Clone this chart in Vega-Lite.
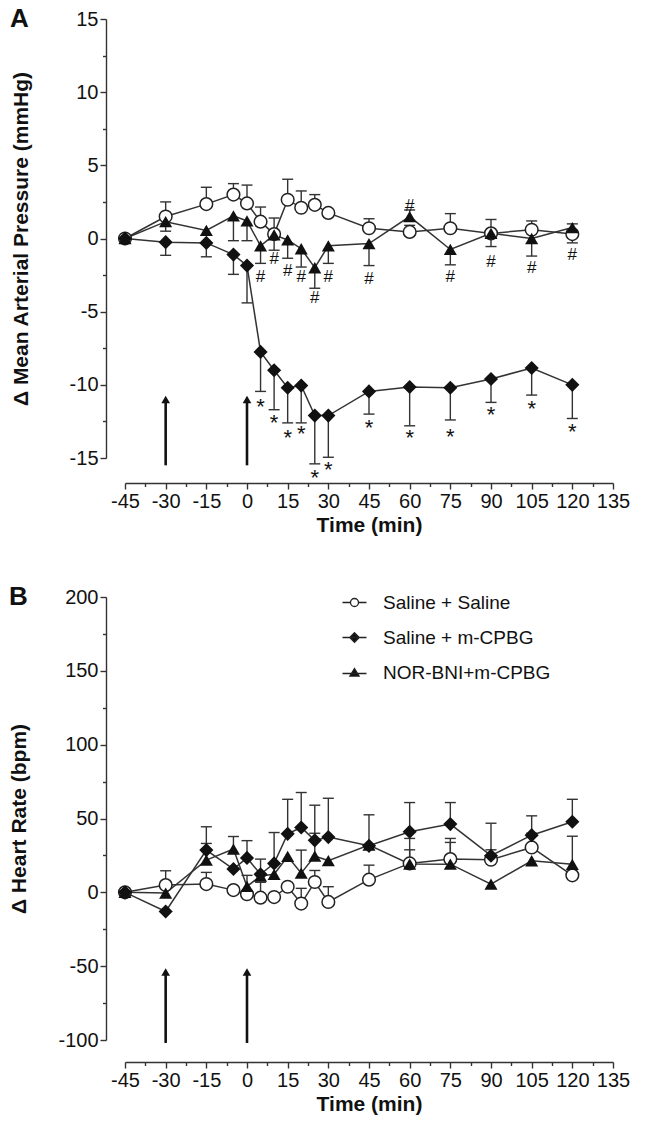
{
"$schema": "https://vega.github.io/schema/vega-lite/v6.json",
"background": "white",
"padding": {"left": 8, "top": 6, "right": 5, "bottom": 5},
"spacing": 49,
"config": {
  "view": {"stroke": null},
  "font": "Liberation Sans",
  "axis": {"labelFont": "Liberation Sans", "labelFontSize": 20, "labelColor": "#111", "titleFont": "Liberation Sans", "titleFontSize": 21, "titleFontWeight": "bold", "titleColor": "#111", "domainColor": "#333", "tickColor": "#333", "domainWidth": 1.4, "tickWidth": 1.4, "grid": false, "labelFlush": false, "labelOverlap": false},
  "title": {"font": "Liberation Sans"}
},
"datasets": {
  "arrowsA": [{"time": -30, "y0": -15.5, "y1": -11.0}, {"time": 0, "y0": -15.5, "y1": -11.0}],
  "arrowsB": [{"time": -30, "y0": -102, "y1": -54}, {"time": 0, "y0": -102, "y1": -54}],
  "mapData": [
    {"group": "Saline + Saline", "time": -45, "value": 0, "bar": null},
    {"group": "Saline + Saline", "time": -30, "value": 1.5, "bar": 2.5},
    {"group": "Saline + Saline", "time": -15, "value": 2.35, "bar": 3.5},
    {"group": "Saline + Saline", "time": -5, "value": 3.0, "bar": 3.75},
    {"group": "Saline + Saline", "time": 0, "value": 2.4, "bar": 3.65},
    {"group": "Saline + Saline", "time": 5, "value": 1.15, "bar": 2.15},
    {"group": "Saline + Saline", "time": 10, "value": 0.3, "bar": 1.4},
    {"group": "Saline + Saline", "time": 15, "value": 2.65, "bar": 4.05},
    {"group": "Saline + Saline", "time": 20, "value": 2.1, "bar": 3.25},
    {"group": "Saline + Saline", "time": 25, "value": 2.3, "bar": 3.0},
    {"group": "Saline + Saline", "time": 30, "value": 1.75, "bar": null},
    {"group": "Saline + Saline", "time": 45, "value": 0.7, "bar": 1.35},
    {"group": "Saline + Saline", "time": 60, "value": 0.45, "bar": 0.9},
    {"group": "Saline + Saline", "time": 75, "value": 0.7, "bar": 1.7},
    {"group": "Saline + Saline", "time": 90, "value": 0.35, "bar": 1.3},
    {"group": "Saline + Saline", "time": 105, "value": 0.6, "bar": 1.2},
    {"group": "Saline + Saline", "time": 120, "value": 0.3, "bar": 1.0},
    {"group": "Saline + m-CPBG", "time": -45, "value": 0, "bar": null},
    {"group": "Saline + m-CPBG", "time": -30, "value": -0.25, "bar": -1.15},
    {"group": "Saline + m-CPBG", "time": -15, "value": -0.3, "bar": -1.25},
    {"group": "Saline + m-CPBG", "time": -5, "value": -1.1, "bar": -2.45},
    {"group": "Saline + m-CPBG", "time": 0, "value": -1.85, "bar": -4.4},
    {"group": "Saline + m-CPBG", "time": 5, "value": -7.75, "bar": -10.45},
    {"group": "Saline + m-CPBG", "time": 10, "value": -9.0, "bar": -11.7},
    {"group": "Saline + m-CPBG", "time": 15, "value": -10.2, "bar": -12.6},
    {"group": "Saline + m-CPBG", "time": 20, "value": -10.05, "bar": -12.6},
    {"group": "Saline + m-CPBG", "time": 25, "value": -12.1, "bar": -15.4},
    {"group": "Saline + m-CPBG", "time": 30, "value": -12.1, "bar": -14.95},
    {"group": "Saline + m-CPBG", "time": 45, "value": -10.45, "bar": -12.0},
    {"group": "Saline + m-CPBG", "time": 60, "value": -10.15, "bar": -12.8},
    {"group": "Saline + m-CPBG", "time": 75, "value": -10.2, "bar": -12.4},
    {"group": "Saline + m-CPBG", "time": 90, "value": -9.6, "bar": -11.2},
    {"group": "Saline + m-CPBG", "time": 105, "value": -8.85, "bar": -10.7},
    {"group": "Saline + m-CPBG", "time": 120, "value": -10.0, "bar": -12.3},
    {"group": "NOR-BNI+m-CPBG", "time": -45, "value": 0, "bar": null},
    {"group": "NOR-BNI+m-CPBG", "time": -30, "value": 1.15, "bar": 0.5},
    {"group": "NOR-BNI+m-CPBG", "time": -15, "value": 0.55, "bar": null},
    {"group": "NOR-BNI+m-CPBG", "time": -5, "value": 1.55, "bar": -0.15},
    {"group": "NOR-BNI+m-CPBG", "time": 0, "value": 1.2, "bar": -0.15},
    {"group": "NOR-BNI+m-CPBG", "time": 5, "value": -0.5, "bar": -1.7},
    {"group": "NOR-BNI+m-CPBG", "time": 10, "value": 0.25, "bar": -0.8},
    {"group": "NOR-BNI+m-CPBG", "time": 15, "value": -0.1, "bar": -1.35},
    {"group": "NOR-BNI+m-CPBG", "time": 20, "value": -0.7, "bar": -1.95},
    {"group": "NOR-BNI+m-CPBG", "time": 25, "value": -2.0, "bar": -3.4},
    {"group": "NOR-BNI+m-CPBG", "time": 30, "value": -0.5, "bar": -1.7},
    {"group": "NOR-BNI+m-CPBG", "time": 45, "value": -0.35, "bar": -1.85},
    {"group": "NOR-BNI+m-CPBG", "time": 60, "value": 1.5, "bar": 1.95},
    {"group": "NOR-BNI+m-CPBG", "time": 75, "value": -0.75, "bar": -1.8},
    {"group": "NOR-BNI+m-CPBG", "time": 90, "value": 0.35, "bar": -0.55},
    {"group": "NOR-BNI+m-CPBG", "time": 105, "value": 0.0, "bar": -1.2},
    {"group": "NOR-BNI+m-CPBG", "time": 120, "value": 0.75, "bar": -0.3}
  ],
  "annoA": [
    {"time": 5, "y": -2.6, "label": "#"}, {"time": 10, "y": -1.4, "label": "#"}, {"time": 15, "y": -2.2, "label": "#"},
    {"time": 20, "y": -2.6, "label": "#"}, {"time": 25, "y": -4.1, "label": "#"}, {"time": 30, "y": -2.6, "label": "#"},
    {"time": 45, "y": -2.75, "label": "#"}, {"time": 60, "y": 2.2, "label": "#"}, {"time": 75, "y": -2.6, "label": "#"},
    {"time": 90, "y": -1.6, "label": "#"}, {"time": 105, "y": -2.05, "label": "#"}, {"time": 120, "y": -1.1, "label": "#"},
    {"time": 5, "y": -11.2, "label": "*"}, {"time": 10, "y": -12.3, "label": "*"}, {"time": 15, "y": -13.3, "label": "*"},
    {"time": 20, "y": -13.0, "label": "*"}, {"time": 25, "y": -16.0, "label": "*"}, {"time": 30, "y": -15.5, "label": "*"},
    {"time": 45, "y": -12.6, "label": "*"}, {"time": 60, "y": -13.3, "label": "*"}, {"time": 75, "y": -13.2, "label": "*"},
    {"time": 90, "y": -11.7, "label": "*"}, {"time": 105, "y": -11.3, "label": "*"}, {"time": 120, "y": -12.9, "label": "*"}
  ],
  "hrData": [
    {"group": "Saline + Saline", "time": -45, "value": 0, "bar": null},
    {"group": "Saline + Saline", "time": -30, "value": 4.9, "bar": 14.6},
    {"group": "Saline + Saline", "time": -15, "value": 5.6, "bar": 13.5},
    {"group": "Saline + Saline", "time": -5, "value": 1.5, "bar": null},
    {"group": "Saline + Saline", "time": 0, "value": -1.3, "bar": null},
    {"group": "Saline + Saline", "time": 5, "value": -3.6, "bar": 6.8},
    {"group": "Saline + Saline", "time": 10, "value": -3.2, "bar": null},
    {"group": "Saline + Saline", "time": 15, "value": 3.8, "bar": null},
    {"group": "Saline + Saline", "time": 20, "value": -7.6, "bar": 2.7},
    {"group": "Saline + Saline", "time": 25, "value": 7.0, "bar": 14.8},
    {"group": "Saline + Saline", "time": 30, "value": -6.5, "bar": 3.8},
    {"group": "Saline + Saline", "time": 45, "value": 8.6, "bar": 18.4},
    {"group": "Saline + Saline", "time": 60, "value": 19.6, "bar": 28.8},
    {"group": "Saline + Saline", "time": 75, "value": 22.5, "bar": 36.5},
    {"group": "Saline + Saline", "time": 90, "value": 22.1, "bar": 28.8},
    {"group": "Saline + Saline", "time": 105, "value": 30.4, "bar": 40.0},
    {"group": "Saline + Saline", "time": 120, "value": 11.5, "bar": null},
    {"group": "Saline + m-CPBG", "time": -45, "value": 0, "bar": null},
    {"group": "Saline + m-CPBG", "time": -30, "value": -13.0, "bar": null},
    {"group": "Saline + m-CPBG", "time": -15, "value": 28.6, "bar": 44.4},
    {"group": "Saline + m-CPBG", "time": -5, "value": 15.8, "bar": null},
    {"group": "Saline + m-CPBG", "time": 0, "value": 23.3, "bar": 35.0},
    {"group": "Saline + m-CPBG", "time": 5, "value": 12.2, "bar": null},
    {"group": "Saline + m-CPBG", "time": 10, "value": 19.6, "bar": 40.5},
    {"group": "Saline + m-CPBG", "time": 15, "value": 39.6, "bar": 63.0},
    {"group": "Saline + m-CPBG", "time": 20, "value": 43.9, "bar": 67.6},
    {"group": "Saline + m-CPBG", "time": 25, "value": 35.2, "bar": 59.0},
    {"group": "Saline + m-CPBG", "time": 30, "value": 37.4, "bar": 63.7},
    {"group": "Saline + m-CPBG", "time": 45, "value": 31.5, "bar": 52.5},
    {"group": "Saline + m-CPBG", "time": 60, "value": 41.0, "bar": 60.8},
    {"group": "Saline + m-CPBG", "time": 75, "value": 46.2, "bar": 60.8},
    {"group": "Saline + m-CPBG", "time": 90, "value": 24.8, "bar": 46.8},
    {"group": "Saline + m-CPBG", "time": 105, "value": 38.7, "bar": 51.8},
    {"group": "Saline + m-CPBG", "time": 120, "value": 47.8, "bar": 63.0},
    {"group": "NOR-BNI+m-CPBG", "time": -45, "value": 0, "bar": null},
    {"group": "NOR-BNI+m-CPBG", "time": -30, "value": -0.5, "bar": null},
    {"group": "NOR-BNI+m-CPBG", "time": -15, "value": 21.8, "bar": 33.1},
    {"group": "NOR-BNI+m-CPBG", "time": -5, "value": 29.3, "bar": 37.8},
    {"group": "NOR-BNI+m-CPBG", "time": 0, "value": 4.0, "bar": 11.5},
    {"group": "NOR-BNI+m-CPBG", "time": 5, "value": 11.0, "bar": 22.5},
    {"group": "NOR-BNI+m-CPBG", "time": 10, "value": 12.2, "bar": null},
    {"group": "NOR-BNI+m-CPBG", "time": 15, "value": 24.3, "bar": null},
    {"group": "NOR-BNI+m-CPBG", "time": 20, "value": 13.0, "bar": 28.6},
    {"group": "NOR-BNI+m-CPBG", "time": 25, "value": 24.5, "bar": 40.0},
    {"group": "NOR-BNI+m-CPBG", "time": 30, "value": 21.5, "bar": null},
    {"group": "NOR-BNI+m-CPBG", "time": 45, "value": 32.0, "bar": null},
    {"group": "NOR-BNI+m-CPBG", "time": 60, "value": 19.2, "bar": 36.5},
    {"group": "NOR-BNI+m-CPBG", "time": 75, "value": 19.1, "bar": 33.8},
    {"group": "NOR-BNI+m-CPBG", "time": 90, "value": 5.6, "bar": null},
    {"group": "NOR-BNI+m-CPBG", "time": 105, "value": 21.4, "bar": null},
    {"group": "NOR-BNI+m-CPBG", "time": 120, "value": 19.0, "bar": 38.0}
  ]
},
"vconcat": [
  {
    "title": {"text": "A", "anchor": "start", "frame": "bounds", "baseline": "top", "offset": -23, "fontSize": 26, "fontWeight": "bold", "color": "#111"},
    "width": 488, "height": 439,
    "resolve": {"axis": {"x": "independent", "y": "independent"}},
    "layer": [
      {"data": {"name": "arrowsA"}, "mark": {"type": "rule", "strokeWidth": 2.6, "color": "#111"},
       "encoding": {
         "x": {"field": "time", "type": "quantitative", "scale": {"domain": [-45, 135], "nice": false},
               "axis": {"orient": "bottom", "values": [-45, -30, -15, 0, 15, 30, 45, 60, 75, 90, 105, 120, 135], "labelExpr": "'' + datum.value", "title": "Time (min)", "offset": 25, "tickSize": 6, "labelPadding": 2, "titlePadding": 3}},
         "y": {"field": "y0", "type": "quantitative", "scale": {"domain": [-15, 15], "nice": false},
               "axis": {"orient": "left", "values": [-15, -10, -5, 0, 5, 10, 15], "labelExpr": "'' + datum.value", "title": "Δ Mean Arterial Pressure (mmHg)", "offset": 19, "tickSize": 6, "labelPadding": 2, "titlePadding": 38}},
         "y2": {"field": "y1"}}},
      {"data": {"name": "arrowsA"}, "mark": {"type": "point", "shape": "triangle-up", "filled": true, "size": 75, "color": "#111", "opacity": 1},
       "encoding": {
         "x": {"field": "time", "type": "quantitative", "axis": {"orient": "bottom", "values": [-37.5, -22.5, -7.5, 7.5, 22.5, 37.5, 52.5, 67.5, 82.5, 97.5, 112.5, 127.5], "labels": false, "domain": false, "title": null, "offset": 25, "tickSize": 3.5}},
         "y": {"field": "y1", "type": "quantitative", "axis": {"orient": "left", "values": [-12.5, -7.5, -2.5, 2.5, 7.5, 12.5], "labels": false, "domain": false, "title": null, "offset": 19, "tickSize": 3.5}}}},
      {"data": {"name": "mapData"}, "transform": [{"filter": "datum.bar != null"}], "mark": {"type": "rule", "strokeWidth": 1.4, "color": "#333"},
       "encoding": {"x": {"field": "time", "type": "quantitative", "axis": null}, "y": {"field": "value", "type": "quantitative", "axis": null}, "y2": {"field": "bar"}}},
      {"data": {"name": "mapData"}, "transform": [{"filter": "datum.bar != null"}], "mark": {"type": "tick", "orient": "horizontal", "size": 11, "thickness": 1.4, "color": "#333", "opacity": 1},
       "encoding": {"x": {"field": "time", "type": "quantitative", "axis": null}, "y": {"field": "bar", "type": "quantitative", "axis": null}}},
      {"data": {"name": "mapData"}, "mark": {"type": "line", "strokeWidth": 1.5, "color": "#333"},
       "encoding": {"x": {"field": "time", "type": "quantitative", "axis": null}, "y": {"field": "value", "type": "quantitative", "axis": null}, "detail": {"field": "group", "type": "nominal"}}},
      {"data": {"name": "mapData"}, "transform": [{"filter": "datum.group === 'Saline + Saline'"}], "mark": {"type": "point", "shape": "circle", "filled": true, "fill": "white", "stroke": "#222", "strokeWidth": 1.5, "size": 160, "opacity": 1},
       "encoding": {"x": {"field": "time", "type": "quantitative", "axis": null}, "y": {"field": "value", "type": "quantitative", "axis": null}}},
      {"data": {"name": "mapData"}, "transform": [{"filter": "datum.group === 'NOR-BNI+m-CPBG'"}], "mark": {"type": "point", "shape": "triangle-up", "filled": true, "color": "#111", "size": 170, "opacity": 1},
       "encoding": {"x": {"field": "time", "type": "quantitative", "axis": null}, "y": {"field": "value", "type": "quantitative", "axis": null}}},
      {"data": {"name": "mapData"}, "transform": [{"filter": "datum.group === 'Saline + m-CPBG'"}], "mark": {"type": "point", "shape": "diamond", "filled": true, "color": "#111", "size": 200, "opacity": 1},
       "encoding": {"x": {"field": "time", "type": "quantitative", "axis": null}, "y": {"field": "value", "type": "quantitative", "axis": null}}},
      {"data": {"name": "annoA"}, "transform": [{"filter": "datum.label === '#'"}], "mark": {"type": "text", "fontSize": 17, "color": "#111", "baseline": "middle", "font": "Liberation Sans"},
       "encoding": {"x": {"field": "time", "type": "quantitative", "axis": null}, "y": {"field": "y", "type": "quantitative", "axis": null}, "text": {"field": "label"}}},
      {"data": {"name": "annoA"}, "transform": [{"filter": "datum.label === '*'"}], "mark": {"type": "text", "fontSize": 22, "color": "#111", "baseline": "middle", "dy": 5, "font": "Liberation Sans"},
       "encoding": {"x": {"field": "time", "type": "quantitative", "axis": null}, "y": {"field": "y", "type": "quantitative", "axis": null}, "text": {"field": "label"}}}
    ]
  },
  {
    "title": {"text": "B", "anchor": "start", "frame": "bounds", "baseline": "top", "offset": -23, "fontSize": 26, "fontWeight": "bold", "color": "#111"},
    "width": 488, "height": 443,
    "resolve": {"axis": {"x": "independent", "y": "independent"}},
    "layer": [
      {"data": {"name": "arrowsB"}, "mark": {"type": "rule", "strokeWidth": 2.6, "color": "#111"},
       "encoding": {
         "x": {"field": "time", "type": "quantitative", "scale": {"domain": [-45, 135], "nice": false},
               "axis": {"orient": "bottom", "values": [-45, -30, -15, 0, 15, 30, 45, 60, 75, 90, 105, 120, 135], "labelExpr": "'' + datum.value", "title": "Time (min)", "offset": 22, "tickSize": 6, "labelPadding": 2, "titlePadding": 3}},
         "y": {"field": "y0", "type": "quantitative", "scale": {"domain": [-100, 200], "nice": false},
               "axis": {"orient": "left", "values": [-100, -50, 0, 50, 100, 150, 200], "labelExpr": "'' + datum.value", "title": "Δ Heart Rate (bpm)", "offset": 19, "tickSize": 6, "labelPadding": 2, "titlePadding": 28}},
         "y2": {"field": "y1"}}},
      {"data": {"name": "arrowsB"}, "mark": {"type": "point", "shape": "triangle-up", "filled": true, "size": 75, "color": "#111", "opacity": 1},
       "encoding": {
         "x": {"field": "time", "type": "quantitative", "axis": {"orient": "bottom", "values": [-37.5, -22.5, -7.5, 7.5, 22.5, 37.5, 52.5, 67.5, 82.5, 97.5, 112.5, 127.5], "labels": false, "domain": false, "title": null, "offset": 22, "tickSize": 3.5}},
         "y": {"field": "y1", "type": "quantitative", "axis": {"orient": "left", "values": [-75, -25, 25, 75, 125, 175], "labels": false, "domain": false, "title": null, "offset": 19, "tickSize": 3.5}}}},
      {"data": {"name": "hrData"}, "transform": [{"filter": "datum.bar != null"}], "mark": {"type": "rule", "strokeWidth": 1.4, "color": "#333"},
       "encoding": {"x": {"field": "time", "type": "quantitative", "axis": null}, "y": {"field": "value", "type": "quantitative", "axis": null}, "y2": {"field": "bar"}}},
      {"data": {"name": "hrData"}, "transform": [{"filter": "datum.bar != null"}], "mark": {"type": "tick", "orient": "horizontal", "size": 11, "thickness": 1.4, "color": "#333", "opacity": 1},
       "encoding": {"x": {"field": "time", "type": "quantitative", "axis": null}, "y": {"field": "bar", "type": "quantitative", "axis": null}}},
      {"data": {"name": "hrData"}, "mark": {"type": "line", "strokeWidth": 1.5, "color": "#333"},
       "encoding": {"x": {"field": "time", "type": "quantitative", "axis": null}, "y": {"field": "value", "type": "quantitative", "axis": null}, "detail": {"field": "group", "type": "nominal"}}},
      {"data": {"name": "hrData"}, "transform": [{"filter": "datum.group === 'Saline + Saline'"}], "mark": {"type": "point", "shape": "circle", "filled": true, "fill": "white", "stroke": "#222", "strokeWidth": 1.5, "size": 160, "opacity": 1},
       "encoding": {"x": {"field": "time", "type": "quantitative", "axis": null}, "y": {"field": "value", "type": "quantitative", "axis": null}}},
      {"data": {"name": "hrData"}, "transform": [{"filter": "datum.group === 'NOR-BNI+m-CPBG'"}], "mark": {"type": "point", "shape": "triangle-up", "filled": true, "color": "#111", "size": 170, "opacity": 1},
       "encoding": {"x": {"field": "time", "type": "quantitative", "axis": null}, "y": {"field": "value", "type": "quantitative", "axis": null}}},
      {"data": {"name": "hrData"}, "transform": [{"filter": "datum.group === 'Saline + m-CPBG'"}], "mark": {"type": "point", "shape": "diamond", "filled": true, "color": "#111", "size": 200, "opacity": 1},
       "encoding": {"x": {"field": "time", "type": "quantitative", "axis": null}, "y": {"field": "value", "type": "quantitative", "axis": null}}},
      {"data": {"name": "hrData"}, "transform": [{"filter": "datum.time > 999"}], "mark": {"type": "point", "filled": true, "opacity": 1, "stroke": "#222", "strokeWidth": 1.3},
       "encoding": {
         "x": {"field": "time", "type": "quantitative", "axis": null},
         "y": {"field": "value", "type": "quantitative", "axis": null},
         "shape": {"field": "group", "type": "nominal",
                   "scale": {"domain": ["Saline + Saline", "Saline + m-CPBG", "NOR-BNI+m-CPBG"], "range": ["M-3,0H-1M1,0H3M1,0A1,1,0,1,1,-1,0A1,1,0,1,1,1,0Z", "M-3,0H3M0,-1.2L1.2,0L0,1.2L-1.2,0Z", "M-3,0.25H3M0,-1L1.15,0.9L-1.15,0.9Z"]},
                   "legend": {"title": null, "orient": "none", "legendX": 200, "legendY": 574, "labelFontSize": 19, "labelColor": "#111", "labelFont": "Liberation Sans", "labelLimit": 400, "symbolSize": 64, "symbolStrokeColor": "#222", "symbolStrokeWidth": 1.3, "symbolOpacity": 1, "rowPadding": 15, "symbolOffset": 20, "labelOffset": 19, "padding": 0,
                              "encode": {"symbols": {"update": {"stroke": {"value": "#222"}, "strokeWidth": {"value": 1.3}, "opacity": {"value": 1}}}}}},
         "fill": {"field": "group", "type": "nominal",
                  "scale": {"domain": ["Saline + Saline", "Saline + m-CPBG", "NOR-BNI+m-CPBG"], "range": ["#ffffff", "#111111", "#111111"]},
                  "legend": {"title": null, "orient": "none", "legendX": 200, "legendY": 574, "labelFontSize": 19, "labelColor": "#111", "labelFont": "Liberation Sans", "labelLimit": 400, "symbolSize": 64, "symbolStrokeColor": "#222", "symbolStrokeWidth": 1.3, "symbolOpacity": 1, "rowPadding": 15, "symbolOffset": 20, "labelOffset": 19, "padding": 0,
                             "encode": {"symbols": {"update": {"stroke": {"value": "#222"}, "strokeWidth": {"value": 1.3}, "opacity": {"value": 1}}}}}}
       }}
    ]
  }
]
}
